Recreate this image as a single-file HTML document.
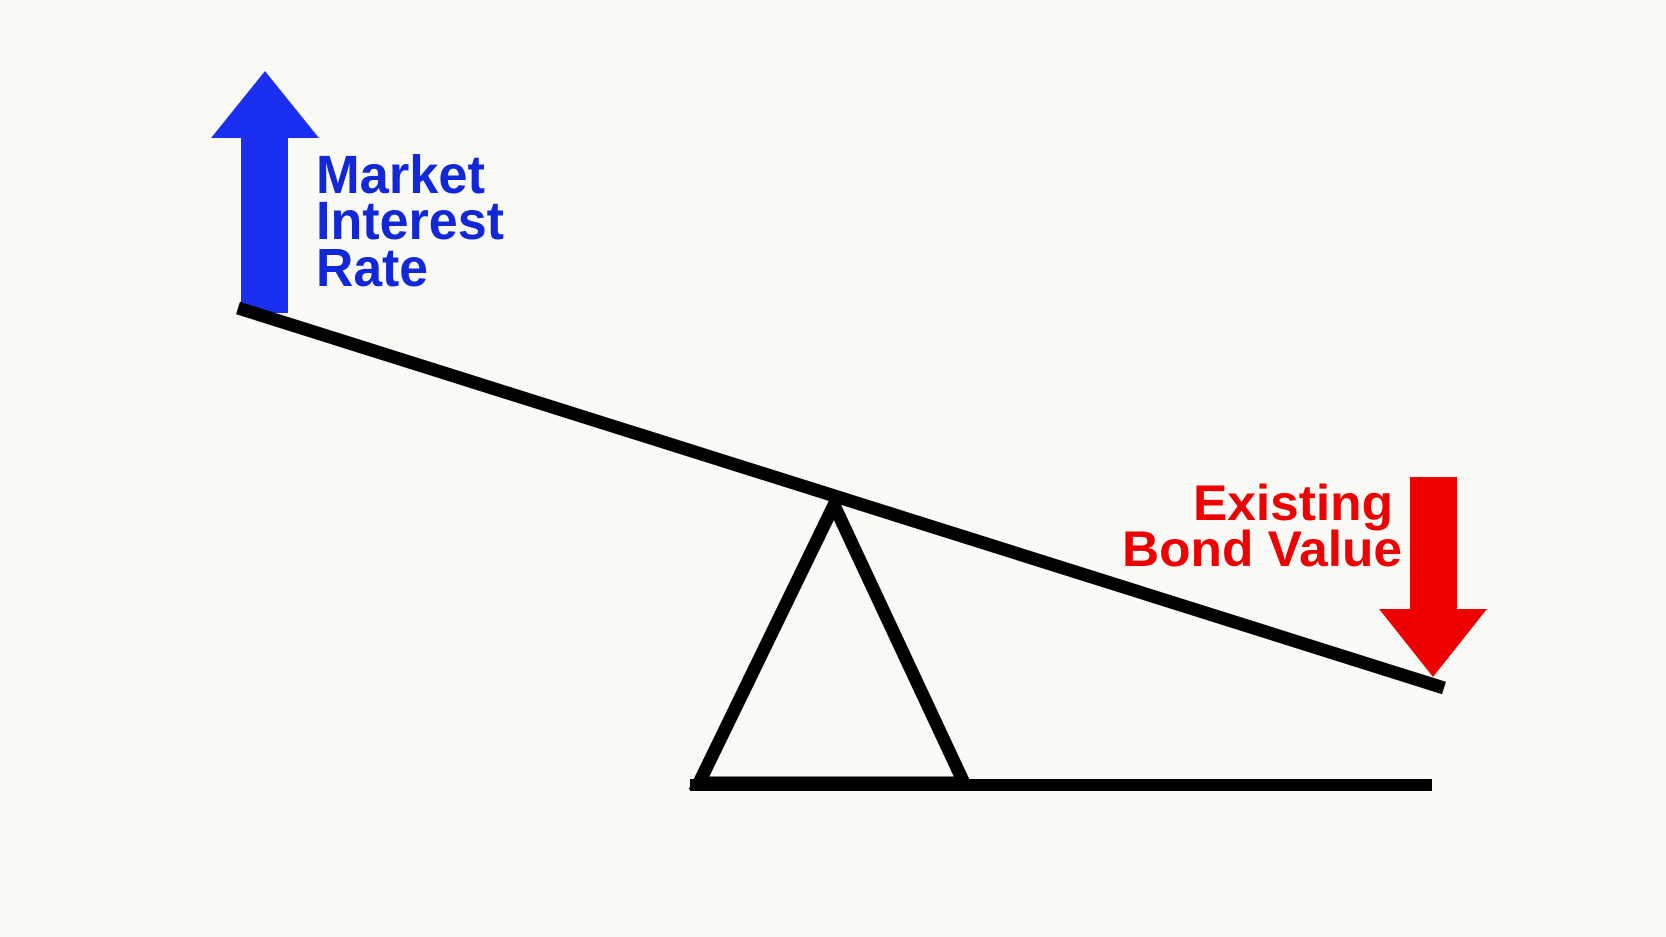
<!DOCTYPE html>
<html><head><meta charset="utf-8"><style>
html,body{margin:0;padding:0;background:#fafaf7;}
svg{display:block;}
text{font-family:"Liberation Sans",Arial,sans-serif;font-weight:bold;}
</style></head><body>
<svg width="1666" height="937" viewBox="0 0 1666 937" xmlns="http://www.w3.org/2000/svg">
<rect width="1666" height="937" fill="#fafaf7"/>
<polygon points="265,71 319,138 288,138 288,313 241,313 241,138 211,138" fill="#1a2ff0"/>
<text x="316" y="193" font-size="54" fill="#1228d8" textLength="169" lengthAdjust="spacingAndGlyphs">Market</text>
<text x="316" y="239" font-size="54" fill="#1228d8" textLength="188" lengthAdjust="spacingAndGlyphs">Interest</text>
<text x="316" y="286" font-size="54" fill="#1228d8" textLength="112" lengthAdjust="spacingAndGlyphs">Rate</text>
<line x1="238" y1="308" x2="1444" y2="688" stroke="#000" stroke-width="13"/>
<polygon points="834,505 699,783 964,783" fill="none" stroke="#000" stroke-width="13" stroke-linejoin="miter"/>
<line x1="690" y1="785" x2="1432" y2="785" stroke="#000" stroke-width="12"/>
<polygon points="1410,477 1457,477 1457,609 1487,609 1433,677 1379,609 1410,609" fill="#ee0000"/>
<text x="1193" y="520" font-size="50" fill="#ee0000" textLength="200" lengthAdjust="spacingAndGlyphs">Existing</text>
<text x="1122" y="566" font-size="50" fill="#ee0000" textLength="280" lengthAdjust="spacingAndGlyphs">Bond Value</text>
</svg>
</body></html>
